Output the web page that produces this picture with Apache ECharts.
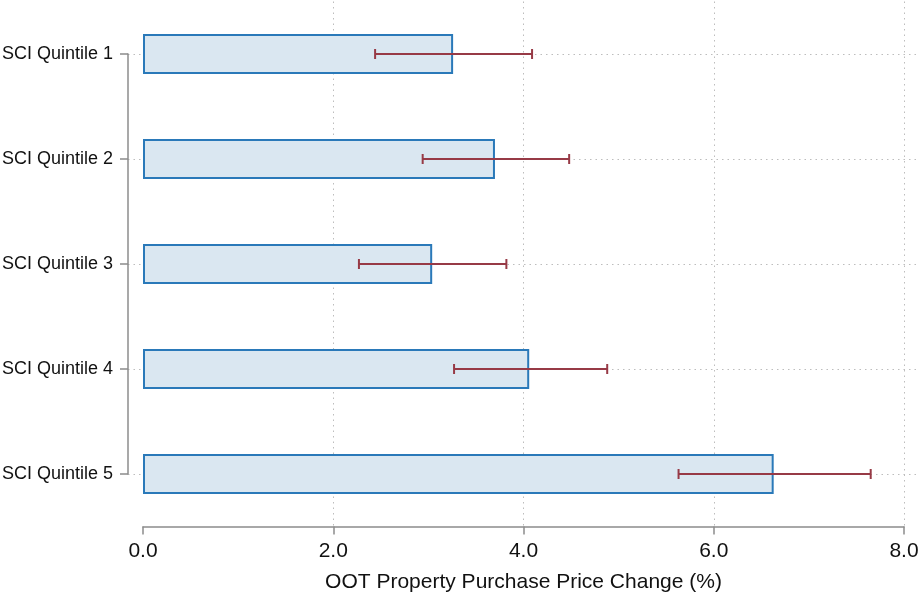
<!DOCTYPE html>
<html>
<head>
<meta charset="utf-8">
<script src="https://cdn.jsdelivr.net/npm/echarts@6/dist/echarts.min.js"></script>
<style>
html,body{margin:0;padding:0;background:#fff;}
#chart{width:919px;height:596px;}
</style>
</head>
<body>
<div id="chart"></div>
<script>
var categories = ['SCI Quintile 1', 'SCI Quintile 2', 'SCI Quintile 3', 'SCI Quintile 4', 'SCI Quintile 5'];
var estimates = [3.26, 3.70, 3.04, 4.06, 6.63];
var ciLow = [2.44, 2.94, 2.27, 3.27, 5.63];
var ciHigh = [4.09, 4.48, 3.82, 4.88, 7.65];
var xTicks = [0, 2, 4, 6, 8];
var xTitle = 'OOT Property Purchase Price Change (%)';

var FONT = '"Liberation Sans", Arial, Helvetica, sans-serif';
var errData = categories.map(function (c, i) { return [ciLow[i], ciHigh[i], i]; });

var chart = echarts.init(document.getElementById('chart'));
chart.setOption({
  animation: false,
  backgroundColor: '#ffffff',
  grid: [
    { left: 143, right: 15, top: 1.5, bottom: 69.5, outerBoundsMode: 'none', containLabel: false },
    { left: 128, right: 0, top: 54, bottom: 122, outerBoundsMode: 'none', containLabel: false }
  ],
  xAxis: [
    {
      type: 'value', gridIndex: 0,
      min: xTicks[0], max: xTicks[xTicks.length - 1], interval: 2,
      name: xTitle, nameLocation: 'middle', nameGap: 45,
      nameTextStyle: { fontSize: 21, color: '#111', fontFamily: FONT },
      axisLine: { show: true, lineStyle: { color: '#8c8c8c', width: 1.5 } },
      axisTick: { show: true, length: 8, lineStyle: { color: '#8c8c8c', width: 1.5 } },
      axisLabel: { fontSize: 21, color: '#111', fontFamily: FONT, margin: 14,
        formatter: function (v) { return v.toFixed(1); } },
      splitLine: { show: true, showMinLine: false, showMaxLine: true,
        lineStyle: { color: '#bdbdbd', width: 1, type: [1.5, 4] } }
    },
    { type: 'value', gridIndex: 1, min: 0, max: 8, show: false }
  ],
  yAxis: [
    {
      type: 'category', gridIndex: 0, data: categories, inverse: true,
      show: false
    },
    {
      type: 'category', gridIndex: 1, data: categories, inverse: true,
      boundaryGap: false,
      axisLine: { show: true, lineStyle: { color: '#8c8c8c', width: 1.5 } },
      axisTick: { show: true, length: 8, lineStyle: { color: '#8c8c8c', width: 1.5 } },
      axisLabel: { fontSize: 18, color: '#111', fontFamily: FONT, margin: 15 },
      splitLine: { show: true, lineStyle: { color: '#bdbdbd', width: 1, type: [1.5, 4] } }
    }
  ],
  series: [
    {
      type: 'bar', xAxisIndex: 0, yAxisIndex: 0,
      data: estimates, barWidth: 40,
      itemStyle: { color: '#dae7f1', borderColor: '#2a79b9', borderWidth: 2 },
      z: 3
    },
    {
      type: 'custom', xAxisIndex: 0, yAxisIndex: 0,
      data: errData,
      encode: { x: [0, 1], y: 2 },
      z: 5,
      renderItem: function (params, api) {
        var p0 = api.coord([api.value(0), api.value(2)]);
        var p1 = api.coord([api.value(1), api.value(2)]);
        var h = 5;
        var st = { stroke: '#973a46', lineWidth: 2 };
        return {
          type: 'group',
          children: [
            { type: 'line', shape: { x1: p0[0], y1: p0[1], x2: p1[0], y2: p1[1] }, style: st },
            { type: 'line', shape: { x1: p0[0], y1: p0[1] - h, x2: p0[0], y2: p0[1] + h }, style: st },
            { type: 'line', shape: { x1: p1[0], y1: p1[1] - h, x2: p1[0], y2: p1[1] + h }, style: st }
          ]
        };
      }
    }
  ]
});
</script>
</body>
</html>
